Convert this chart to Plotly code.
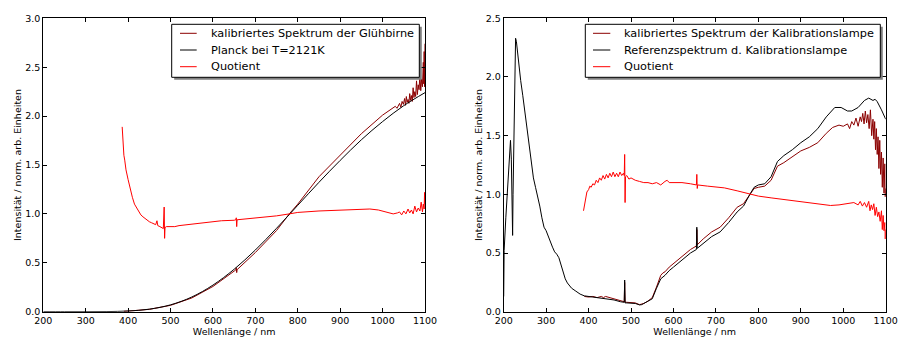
import plotly.graph_objects as go

# ---------------- left panel: light bulb ----------------
planck_wl = [200, 250, 300, 350, 400, 450, 500, 550, 600, 650, 700, 750, 800, 850, 900, 950, 1000, 1050, 1100]
planck_val = [0.0, 0.0, 0.0001, 0.0012, 0.0072, 0.026, 0.070, 0.150, 0.272, 0.434, 0.631, 0.853, 1.088, 1.323,
              1.547, 1.758, 1.944, 2.107, 2.240]

bulb_wl = [390, 400, 450, 500, 550, 600, 650, 654, 655, 656, 657, 700, 750, 780, 800, 850, 900, 950, 1000, 1020,
           1030, 1034, 1038, 1040, 1043, 1046, 1049, 1052, 1054, 1056, 1058, 1060, 1062, 1064, 1066, 1068, 1070,
           1072, 1074, 1076, 1078, 1080, 1082, 1084, 1086, 1088, 1090, 1092, 1094, 1096, 1097, 1098, 1099, 1100]
bulb_val = [0.004, 0.006, 0.024, 0.065, 0.140, 0.258, 0.415, 0.428, 0.45, 0.40, 0.43, 0.605, 0.83, 1.00, 1.10,
            1.38, 1.60, 1.82, 2.01, 2.07,
            2.10, 2.08, 2.12, 2.13, 2.09, 2.15, 2.12, 2.18, 2.11, 2.20, 2.14, 2.17, 2.13, 2.23, 2.16, 2.21, 2.15,
            2.29, 2.19, 2.25, 2.20, 2.36, 2.22, 2.32, 2.27, 2.42, 2.26, 2.38, 2.30, 2.55, 2.33, 2.66, 2.30, 2.74]

quot1_wl = [386, 388, 390, 392, 395, 400, 405, 410, 415, 420, 425, 430, 435, 440, 445, 450, 455, 460, 465, 468,
            470, 475, 480, 483, 485, 486, 487, 490, 495, 500, 510, 520, 550, 580, 600, 620, 650, 654, 655, 656,
            657, 700, 750, 780, 800, 850, 900, 950, 970, 990, 1005, 1020, 1025, 1035, 1040, 1045, 1050, 1055,
            1060, 1064, 1068, 1072, 1076, 1080, 1084, 1088, 1091, 1094, 1096, 1098, 1099, 1100]
quot1_val = [1.89, 1.70, 1.60, 1.55, 1.45, 1.35, 1.25, 1.17, 1.10, 1.06, 1.02, 0.99, 0.97, 0.95, 0.94, 0.92,
             0.91, 0.90, 0.89, 0.93, 0.88, 0.87, 0.86, 0.85, 1.07, 0.75, 0.86, 0.87, 0.87, 0.87, 0.87, 0.88,
             0.895, 0.91, 0.92, 0.93, 0.935, 0.94, 0.96, 0.87, 0.94, 0.955, 0.98, 1.0, 1.015, 1.03, 1.04, 1.05,
             1.05, 1.04, 1.02, 1.00, 1.0, 1.01, 1.02, 0.99, 1.03, 1.0, 1.05, 1.01, 1.04, 1.0, 1.08, 1.02, 1.06,
             1.03, 1.12, 1.02, 1.10, 1.05, 1.22, 1.10]

# ---------------- right panel: calibration lamp ----------------
ref_wl = [200, 201, 205, 210, 214, 216, 218, 221, 222, 225, 228, 230, 235, 240, 245, 250, 255, 260, 265, 270,
          275, 280, 285, 290, 295, 300, 305, 310, 315, 320, 325, 330, 335, 340, 345, 350, 355, 360, 370, 380,
          390, 400, 420, 440, 460, 475, 484, 485, 486, 490, 500, 510, 520, 525, 530, 540, 550, 560, 570, 580,
          590, 600, 620, 640, 654, 655, 656, 670, 690, 710, 730, 750, 765, 780, 790, 800, 815, 830, 845, 860,
          880, 900, 920, 940, 960, 980, 995, 1010, 1020, 1035, 1050, 1060, 1065, 1070, 1075, 1080, 1090, 1100]
ref_val = [0.13, 0.52, 0.80, 1.15, 1.40, 1.46, 1.30, 0.65, 1.0, 1.9, 2.33, 2.30, 2.12, 1.97, 1.84, 1.70, 1.56,
           1.40, 1.24, 1.14, 1.06, 0.99, 0.90, 0.80, 0.72, 0.69, 0.64, 0.60, 0.55, 0.51, 0.49, 0.46, 0.40, 0.33,
           0.28, 0.245, 0.22, 0.20, 0.175, 0.15, 0.135, 0.13, 0.12, 0.115, 0.10, 0.085, 0.08, 0.27, 0.075,
           0.075, 0.075, 0.07, 0.058, 0.06, 0.07, 0.09, 0.11, 0.20, 0.28, 0.31, 0.35, 0.38, 0.44, 0.50, 0.53,
           0.72, 0.54, 0.58, 0.64, 0.68, 0.76, 0.85, 0.90, 1.00, 1.06, 1.08, 1.09, 1.15, 1.28, 1.33, 1.38, 1.44,
           1.49, 1.56, 1.66, 1.74, 1.74, 1.71, 1.71, 1.74, 1.80, 1.82, 1.81, 1.80, 1.81, 1.79, 1.72, 1.64]

cal_wl = [390, 400, 410, 420, 430, 435, 440, 450, 460, 470, 480, 484, 485, 486, 490, 500, 510, 520, 530, 540,
          550, 560, 570, 575, 580, 590, 600, 620, 640, 654, 655, 656, 670, 690, 710, 730, 750, 765, 780, 790,
          800, 815, 830, 845, 860, 880, 900, 920, 940, 960, 975, 990, 1000, 1010, 1015, 1020, 1025, 1030, 1035,
          1040, 1043, 1046, 1049, 1052, 1055, 1058, 1061, 1064, 1067, 1070, 1072, 1074, 1076, 1078, 1080, 1082,
          1084, 1086, 1088, 1090, 1092, 1094, 1096, 1098, 1099, 1100]
cal_val = [0.13, 0.125, 0.13, 0.12, 0.13, 0.12, 0.13, 0.12, 0.11, 0.10, 0.09, 0.085, 0.25, 0.08, 0.08, 0.08,
           0.075, 0.06, 0.07, 0.09, 0.12, 0.21, 0.31, 0.33, 0.34, 0.38, 0.41, 0.47, 0.53, 0.56, 0.70, 0.57, 0.62,
           0.68, 0.72, 0.80, 0.89, 0.92, 1.00, 1.05, 1.06, 1.07, 1.12, 1.24, 1.27, 1.32, 1.37, 1.40, 1.44, 1.52,
           1.57, 1.59, 1.58, 1.60, 1.56, 1.62, 1.59, 1.65, 1.58, 1.66, 1.62, 1.69, 1.60, 1.71, 1.61, 1.68, 1.56,
           1.72, 1.50, 1.64, 1.47, 1.62, 1.38, 1.56, 1.34, 1.49, 1.22, 1.46, 1.17, 1.36, 1.06, 1.31, 1.01, 1.26,
           0.98, 1.05]

quot2_wl = [388, 390, 393, 396, 400, 403, 406, 410, 414, 418, 422, 426, 430, 434, 438, 442, 446, 450, 454, 458,
            462, 466, 470, 474, 478, 482, 484, 485, 486, 487, 490, 495, 500, 510, 520, 530, 540, 550, 560, 570,
            580, 585, 590, 600, 620, 640, 654, 655, 656, 657, 680, 700, 720, 750, 780, 800, 830, 860, 900, 940,
            970, 990, 1010, 1025, 1035, 1040, 1045, 1050, 1055, 1060, 1063, 1066, 1069, 1072, 1075, 1078, 1081,
            1084, 1087, 1090, 1092, 1094, 1096, 1098, 1099, 1100]
quot2_val = [0.86, 0.90, 0.97, 1.02, 1.04, 1.07, 1.06, 1.09, 1.08, 1.12, 1.10, 1.14, 1.12, 1.16, 1.13, 1.17,
             1.14, 1.18, 1.15, 1.19, 1.15, 1.18, 1.15, 1.19, 1.16, 1.18, 1.16, 1.34, 0.93, 1.15, 1.16, 1.13,
             1.14, 1.12, 1.11, 1.10, 1.10, 1.09, 1.10, 1.08, 1.11, 1.12, 1.10, 1.10, 1.10, 1.09, 1.08, 1.17,
             1.05, 1.08, 1.07, 1.065, 1.055, 1.03, 1.00, 0.985, 0.97, 0.955, 0.94, 0.915, 0.905, 0.91, 0.92,
             0.93, 0.91, 0.94, 0.90, 0.93, 0.89, 0.94, 0.86, 0.91, 0.87, 0.92, 0.82, 0.89, 0.81, 0.85, 0.77,
             0.86, 0.70, 0.82, 0.69, 0.76, 0.62, 0.70]

x_ticks = [200, 300, 400, 500, 600, 700, 800, 900, 1000, 1100]

legend1_labels = ["kalibriertes Spektrum der Glühbirne", "Planck bei T=2121K", "Quotient"]
legend2_labels = ["kalibriertes Spektrum der Kalibrationslampe", "Referenzspektrum d. Kalibrationslampe", "Quotient"]

BROWN = "#8b0000"
COLORS = [BROWN, "black", "red"]
FONT = "DejaVu Sans"

fig = go.Figure()
fig.add_trace(go.Scatter(x=bulb_wl, y=bulb_val, mode="lines", line=dict(color=BROWN, width=1),
                         name=legend1_labels[0], xaxis="x", yaxis="y"))
fig.add_trace(go.Scatter(x=planck_wl, y=planck_val, mode="lines", line=dict(color="black", width=1, shape="spline"),
                         name=legend1_labels[1], xaxis="x", yaxis="y"))
fig.add_trace(go.Scatter(x=quot1_wl, y=quot1_val, mode="lines", line=dict(color="red", width=1),
                         name=legend1_labels[2], xaxis="x", yaxis="y"))

fig.add_trace(go.Scatter(x=cal_wl, y=cal_val, mode="lines", line=dict(color=BROWN, width=1),
                         name=legend2_labels[0], xaxis="x2", yaxis="y2"))
fig.add_trace(go.Scatter(x=ref_wl, y=ref_val, mode="lines", line=dict(color="black", width=1),
                         name=legend2_labels[1], xaxis="x2", yaxis="y2"))
fig.add_trace(go.Scatter(x=quot2_wl, y=quot2_val, mode="lines", line=dict(color="red", width=1),
                         name=legend2_labels[2], xaxis="x2", yaxis="y2"))

W, H = 898, 337
def px(x):
    return x / W
def py(y):
    return 1 - y / H

axis_common = dict(showline=True, linecolor="black", linewidth=1, mirror="allticks", ticks="inside",
                   ticklen=4, tickcolor="black", showgrid=False, zeroline=False, automargin=False,
                   tickfont=dict(family=FONT, size=9.5, color="black"))

# legend boxes drawn in the matplotlib "fancybox + shadow" style
shapes = []
annotations = []
def add_legend(box_l, box_r, box_t, box_b, line_l, line_r, text_x, labels):
    shapes.append(dict(type="rect", xref="paper", yref="paper", x0=px(box_l + 2.5), x1=px(box_r + 2.5),
                       y0=py(box_b + 2.5), y1=py(box_t + 2.5), fillcolor="#7f7f7f", line=dict(width=0),
                       layer="above"))
    shapes.append(dict(type="rect", xref="paper", yref="paper", x0=px(box_l), x1=px(box_r),
                       y0=py(box_b), y1=py(box_t), fillcolor="white", line=dict(color="black", width=1),
                       layer="above"))
    rows = [33.3, 50.0, 66.7]
    for lab, col, yy in zip(labels, COLORS, rows):
        shapes.append(dict(type="line", xref="paper", yref="paper", x0=px(line_l), x1=px(line_r),
                           y0=py(yy), y1=py(yy), line=dict(color=col, width=1), layer="above"))
        annotations.append(dict(text=lab, xref="paper", yref="paper", x=px(text_x), y=py(yy),
                                xanchor="left", yanchor="middle", showarrow=False,
                                font=dict(family=FONT, size=11.3, color="black")))

add_legend(171.7, 419.3, 24.3, 77.3, 180.0, 196.7, 208.5, legend1_labels)
add_legend(585.3, 880.3, 24.3, 77.3, 593.0, 610.3, 621.5, legend2_labels)

fig.update_layout(
    width=W, height=H, margin=dict(l=0, r=0, t=0, b=0, autoexpand=False),
    paper_bgcolor="white", plot_bgcolor="white", showlegend=False,
    font=dict(family=FONT, color="black"),
    xaxis=dict(domain=[px(43.3), px(425)], anchor="y", range=[200, 1100], tickvals=x_ticks,
               title=dict(text="Wellenlänge / nm", font=dict(size=9.5), standoff=0), **axis_common),
    yaxis=dict(domain=[py(311.7), py(18.3)], anchor="x", range=[0, 3.0], dtick=0.5, tickformat=".1f",
               title=dict(text="Intensität / norm. arb. Einheiten", font=dict(size=9.5), standoff=1), **axis_common),
    xaxis2=dict(domain=[px(503.7), px(885.7)], anchor="y2", range=[200, 1100], tickvals=x_ticks,
                title=dict(text="Wellenlänge / nm", font=dict(size=9.5), standoff=0), **axis_common),
    yaxis2=dict(domain=[py(311.7), py(18.3)], anchor="x2", range=[0, 2.5], dtick=0.5, tickformat=".1f",
                title=dict(text="Intensität / norm. arb. Einheiten", font=dict(size=9.5), standoff=1), **axis_common),
    shapes=shapes,
    annotations=annotations,
)

fig.write_html("out.html", config={"displayModeBar": False},
               post_script="document.body.style.margin='0px';document.body.style.overflow='hidden';")
